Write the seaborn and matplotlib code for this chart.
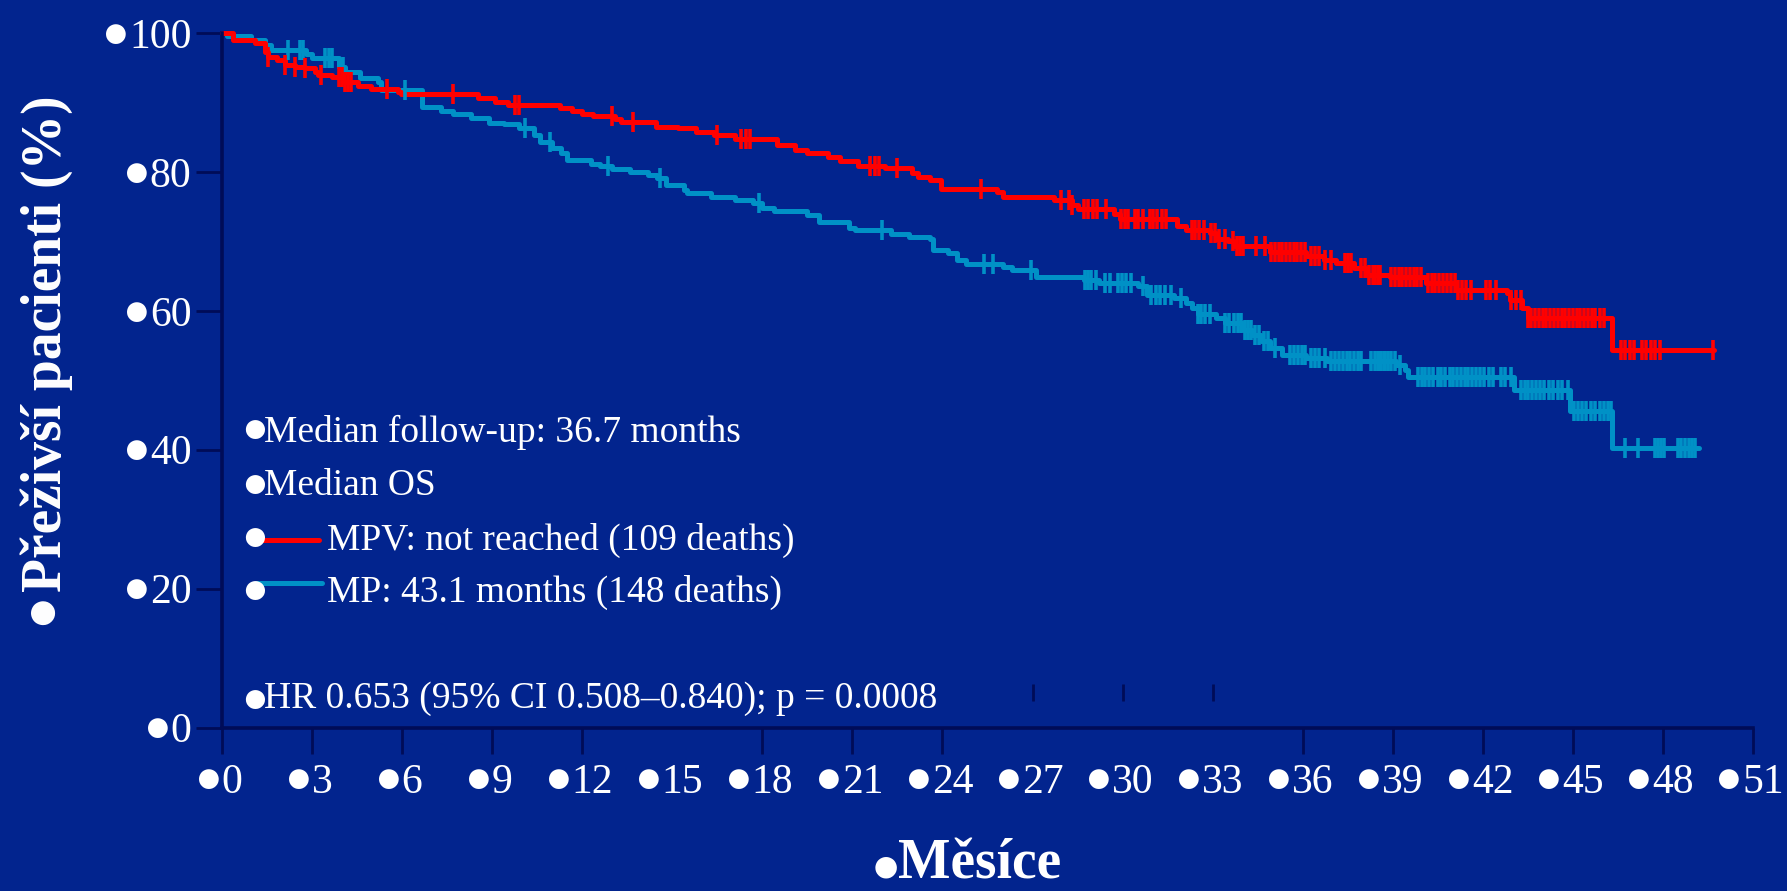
import numpy as np
import matplotlib
matplotlib.use("Agg")
import matplotlib.pyplot as plt
from matplotlib.transforms import ScaledTranslation
import seaborn as sns

# --- data ---
# MPV arm (red): step times (months) and survival (%)
mpv_t = [0, 0.38, 1.10, 1.43, 1.54, 1.82, 2.10, 2.43, 2.76, 3.10, 3.21, 3.65, 4.04, 4.54, 4.98,
         5.87, 5.98, 8.54, 9.09, 9.53, 11.25, 11.65, 11.98, 12.37, 13.09, 13.30, 14.47, 15.20,
         15.80, 16.40, 17.10, 18.50, 19.10, 19.50, 20.20, 20.60, 21.20, 22.10, 23.00, 23.20,
         23.60, 23.96, 25.80, 26.00, 27.70, 28.30, 28.50, 29.70, 29.90, 31.80, 32.10, 32.90,
         33.10, 33.50, 33.70, 34.90, 36.10, 36.70, 37.10, 37.70, 38.10, 38.90, 40.10, 41.10,
         42.80, 42.90, 43.30, 43.50, 46.30, 49.70]
mpv_s = [100, 99.0, 98.5, 97.3, 96.6, 96.1, 95.4, 95.1, 94.9, 94.4, 93.9, 93.7, 93.0, 92.4, 92.0,
         91.5, 91.2, 90.6, 90.0, 89.6, 89.2, 88.7, 88.4, 88.0, 87.6, 87.2, 86.5, 86.3,
         85.8, 85.3, 84.8, 83.9, 83.1, 82.7, 82.1, 81.6, 80.8, 80.5, 79.8, 79.3,
         78.8, 77.6, 77.1, 76.4, 75.9, 75.2, 74.6, 74.0, 73.2, 72.2, 71.7, 71.2,
         70.4, 70.0, 69.3, 68.5, 67.9, 67.3, 66.9, 66.1, 65.2, 64.9, 64.0, 63.0,
         62.5, 61.6, 60.4, 58.9, 54.4, 54.4]
mpv_cens = [1.54, 2.10, 2.43, 2.76, 3.30, 3.90, 4.00, 4.10, 4.20, 4.30, 5.50, 7.70, 9.75, 9.90,
            13.00, 13.70, 16.50, 17.30, 17.45, 17.60, 21.60, 21.75, 21.90, 22.50, 25.30, 27.96,
            28.20, 28.30, 28.70, 28.85, 29.00, 29.15, 29.46, 29.96, 30.08, 30.18, 30.40, 30.50,
            30.68, 30.90, 31.02, 31.15, 31.30, 31.46, 32.30, 32.42, 32.55, 32.70, 32.96, 33.07,
            33.20, 33.40, 33.67, 33.80, 33.92, 34.00, 34.45, 34.73, 34.95, 35.07, 35.20, 35.32,
            35.45, 35.57, 35.70, 35.82, 35.94, 36.06, 36.29, 36.41, 36.55, 36.73, 36.95, 37.40,
            37.50, 37.60, 37.95, 38.07, 38.20, 38.35, 38.50, 38.40, 38.56, 38.95, 39.07, 39.20,
            39.32, 39.45, 39.57, 39.70, 39.82, 39.95, 40.17, 40.30, 40.42, 40.55, 40.67, 40.80,
            40.94, 41.06, 41.17, 41.30, 41.45, 41.60, 42.10, 42.25, 42.45, 42.95, 43.10, 43.28,
            43.50, 43.62, 43.75, 43.87, 44.00, 44.12, 44.25, 44.37, 44.50, 44.62, 44.75, 44.87,
            45.00, 45.12, 45.25, 45.37, 45.50, 45.62, 45.75, 45.90, 46.05, 46.60, 46.75, 46.90,
            47.05, 47.30, 47.45, 47.60, 47.75, 47.90, 49.66]

# MP arm (blue)
mp_t = [0, 0.16, 0.98, 1.43, 1.65, 2.80, 2.99, 3.90, 4.10, 4.60, 5.20, 5.30, 6.65, 7.30, 7.70,
        8.30, 8.90, 9.40, 9.90, 10.40, 10.60, 10.98, 11.30, 11.50, 12.30, 12.60, 13.00, 13.60,
        14.20, 14.50, 14.80, 15.40, 15.50, 16.30, 17.10, 17.70, 18.00, 18.40, 19.50, 19.90,
        20.90, 21.10, 22.30, 22.90, 23.60, 23.70, 24.20, 24.50, 24.80, 26.00, 26.30, 27.10,
        28.70, 29.20, 30.50, 30.80, 31.70, 32.10, 32.30, 32.50, 33.10, 33.40, 34.00, 34.30,
        34.60, 34.90, 35.30, 36.10, 36.80, 39.10, 39.40, 39.50, 43.05, 44.90, 46.30, 49.20]
mp_s = [100, 99.5, 99.0, 98.2, 97.5, 97.0, 96.4, 95.1, 94.4, 93.5, 93.0, 91.8, 89.4, 88.8, 88.3,
        87.7, 87.1, 86.9, 86.3, 85.3, 84.3, 83.4, 82.7, 81.7, 81.2, 80.9, 80.4, 80.0,
        79.6, 79.1, 78.1, 77.4, 76.9, 76.4, 75.9, 75.5, 74.8, 74.3, 73.8, 72.8,
        71.9, 71.7, 71.1, 70.6, 70.3, 68.7, 68.3, 67.3, 66.8, 66.3, 65.9, 64.9,
        64.4, 64.0, 63.6, 62.3, 61.8, 61.1, 60.4, 59.6, 58.9, 58.2, 57.2, 56.5,
        55.6, 54.6, 53.6, 53.2, 52.7, 52.2, 51.5, 50.5, 48.6, 45.5, 40.2, 40.2]
mp_cens = [2.21, 2.60, 2.70, 3.43, 3.55, 3.65, 4.04, 6.09, 10.09, 10.92, 12.87, 14.59, 17.88,
           21.97, 25.40, 25.68, 26.96, 28.85, 28.74, 28.95, 29.13, 29.40, 29.57, 29.85, 29.98,
           30.12, 30.29, 30.68, 30.96, 31.10, 31.25, 31.40, 31.62, 31.96, 32.50, 32.62, 32.73,
           32.90, 33.40, 33.55, 33.70, 33.84, 33.96, 34.08, 34.18, 34.29, 34.42, 34.56, 34.70,
           34.84, 35.06, 35.56, 35.70, 35.84, 35.96, 36.06, 36.29, 36.41, 36.55, 36.73, 36.95,
           37.08, 37.20, 37.33, 37.46, 37.58, 37.70, 37.83, 37.95, 38.28, 38.50, 38.62, 38.73,
           38.40, 38.55, 38.70, 38.85, 38.95, 39.06, 39.23, 39.84, 39.96, 40.08, 40.20, 40.35,
           40.50, 40.62, 40.75, 40.90, 41.02, 41.15, 41.28, 41.40, 41.52, 41.65, 41.78, 41.90,
           42.05, 42.20, 42.35, 42.60, 42.75, 42.95, 43.28, 43.40, 43.52, 43.65, 43.78, 43.90,
           44.05, 44.20, 44.35, 44.50, 44.65, 44.83, 45.05, 45.18, 45.30, 45.45, 45.60, 45.75,
           45.90, 46.05, 46.18, 46.28, 46.72, 47.16, 47.72, 47.85, 47.95, 48.05, 48.50, 48.60,
           48.72, 48.85, 48.95, 49.05]

x_ticks = [0, 3, 6, 9, 12, 15, 18, 21, 24, 27, 30, 33, 36, 39, 42, 45, 48, 51]
x_hidden = [15, 27, 30, 33]   # these ticks sit above the axis on the slide
y_ticks = [0, 20, 40, 60, 80, 100]

notes = ["Median follow-up: 36.7 months", "Median OS",
         "MPV: not reached (109 deaths)", "MP: 43.1 months (148 deaths)",
         "HR 0.653 (95% CI 0.508\u20130.840); p = 0.0008"]

BG = "#02248E"
RED = "#FF0000"
CYAN = "#0091C6"
AXC = "#000C58"
BUL = "\u25cf"

sns.set_style("ticks")
plt.rcParams["font.family"] = ["Liberation Serif", "DejaVu Serif"]

fig = plt.figure(figsize=(17.87, 8.91), dpi=100)
fig.patch.set_facecolor(BG)
ax = fig.add_axes([0.1242, 0.1835, 0.8568, 0.7795])
ax.set_facecolor(BG)


def step_at(t, s, c):
    idx = np.searchsorted(t, c, side="right") - 1
    return np.asarray(s)[idx]


for t, s, cens, col in [(mp_t, mp_s, mp_cens, CYAN), (mpv_t, mpv_s, mpv_cens, RED)]:
    sns.lineplot(x=t, y=s, drawstyle="steps-post", color=col, linewidth=3.6,
                 estimator=None, sort=False, ax=ax, clip_on=False)
    cy = step_at(np.array(t), s, np.array(cens))
    sns.scatterplot(x=cens, y=cy, marker="|", s=210, linewidth=2.6, color=col,
                    ax=ax, clip_on=False, zorder=3)

ax.set_xlim(0, 51)
ax.set_ylim(0, 100)

for sp in ["top", "right"]:
    ax.spines[sp].set_visible(False)
for sp in ["left", "bottom"]:
    ax.spines[sp].set_color(AXC)
    ax.spines[sp].set_linewidth(2.6)

ax.set_xticks(x_ticks)
ax.set_xticklabels([str(v) for v in x_ticks])
ax.set_yticks(y_ticks)
ax.set_yticklabels([str(v) for v in y_ticks])
ax.tick_params(axis="both", colors=AXC, width=2, length=19, direction="out",
               labelcolor="white", labelsize=30)
ax.tick_params(axis="x", pad=7)
ax.tick_params(axis="y", pad=3)
for tk, v in zip(ax.xaxis.get_major_ticks(), x_ticks):
    if v in x_hidden:
        tk.tick1line.set_visible(False)
ax.vlines(x_hidden, 3.8, 6.3, color=AXC, linewidth=2)

# the whole "bullet+number" is centred on the tick, so nudge the numbers right
shift = ScaledTranslation(10 / 100, 0, fig.dpi_scale_trans)
for lab in ax.get_xticklabels():
    lab.set_transform(lab.get_transform() + shift)

# slide bullets in front of every label
for lab in ax.get_xticklabels() + ax.get_yticklabels():
    ax.annotate(BUL, xy=(0, 0.5), xycoords=lab, xytext=(1, 2), textcoords="offset pixels",
                ha="right", va="center", color="white", fontsize=33)

ax.set_ylabel("P\u0159e\u017eiv\u0161\u00ed pacienti (%)", color="white",
              fontsize=40, fontweight="bold")
ax.yaxis.label.set_va("center")
ax.yaxis.set_label_coords(-0.1146, 0.553)
ax.annotate(BUL, xy=(0.5, 0), xycoords=ax.yaxis.label, xytext=(-5, -17),
            textcoords="offset pixels", ha="center", va="center", rotation=90,
            color="white", fontsize=40)

ax.set_xlabel("M\u011bs\u00edce", color="white", fontsize=40, fontweight="bold")
ax.xaxis.label.set_va("center")
ax.xaxis.set_label_coords(0.4945, -0.1975)
ax.annotate(BUL, xy=(0, 0.5), xycoords=ax.xaxis.label, xytext=(3, -5),
            textcoords="offset pixels", ha="right", va="center",
            color="white", fontsize=36)

# annotations inside the plot
fs = 27
ax.text(1.40, 41.15, notes[0], color="white", fontsize=fs, va="baseline", ha="left")
ax.text(1.40, 33.48, notes[1], color="white", fontsize=fs, va="baseline", ha="left")
ax.text(3.49, 25.56, notes[2], color="white", fontsize=fs, va="baseline", ha="left")
ax.text(3.49, 18.11, notes[3], color="white", fontsize=fs, va="baseline", ha="left")
ax.text(1.40, 2.76, notes[4], color="white", fontsize=fs, va="baseline", ha="left")
for by in [42.7, 34.8, 27.1, 19.5, 3.8]:
    ax.text(1.07, by, BUL, color="white", fontsize=32, va="center", ha="center")
ax.plot([1.07, 3.23], [27.0, 27.0], color=RED, linewidth=3.6)
ax.plot([1.17, 3.33], [20.8, 20.8], color=CYAN, linewidth=3.6)

fig.savefig("out.png", dpi=100, facecolor=BG)
